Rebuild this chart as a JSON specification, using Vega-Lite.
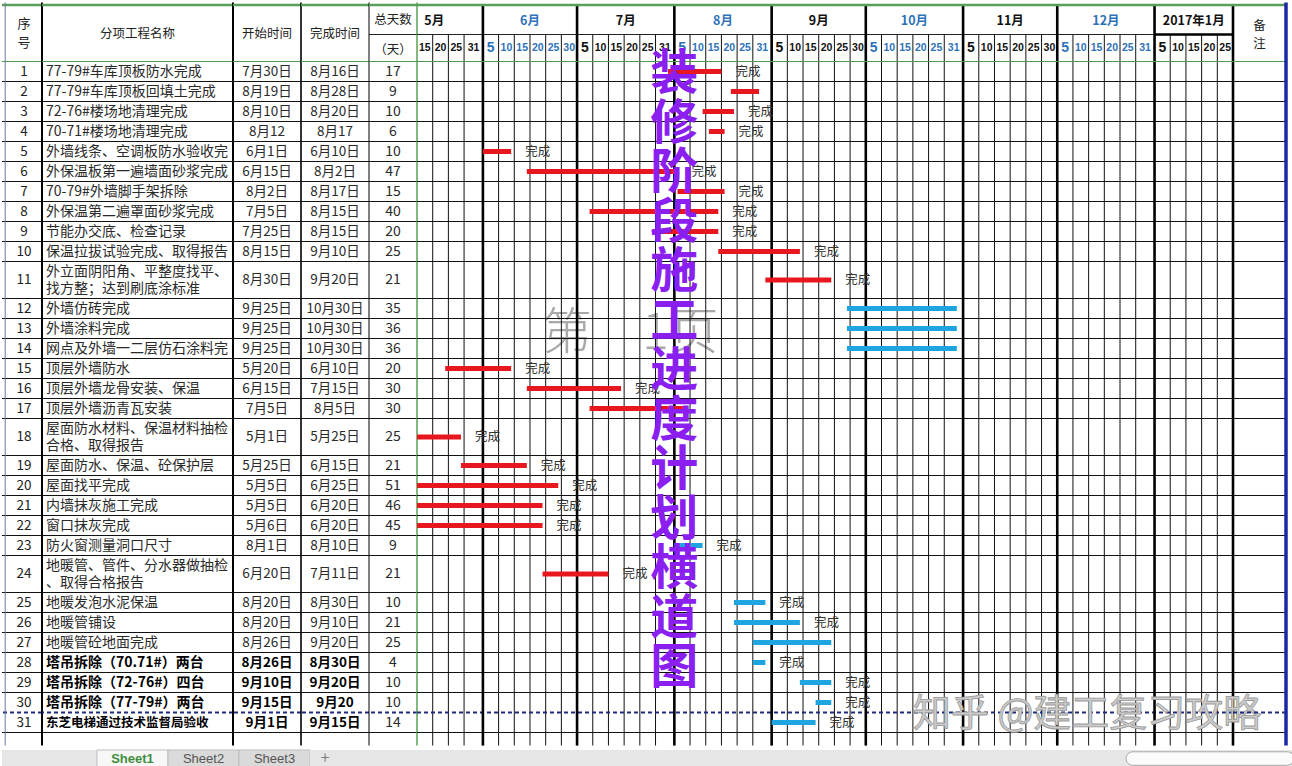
{
  "$schema": "https://vega.github.io/schema/vega-lite/v6.json",
  "padding": 0,
  "background": "white",
  "spacing": 0,
  "config": {
    "view": {"stroke": null},
    "axis": {"disable": true},
    "legend": {"disable": true},
    "concat": {"spacing": 0},
    "font": "Noto Sans CJK SC"
  },
  "datasets": {
    "tasks": [
      {"id": 1, "name": "77-79#车库顶板防水完成", "start": "7月30日", "end": "8月16日", "days": 17, "s": "2016-07-30", "e": "2016-08-16", "kind": "a", "note": "完成"},
      {"id": 2, "name": "77-79#车库顶板回填土完成", "start": "8月19日", "end": "8月28日", "days": 9, "s": "2016-08-19", "e": "2016-08-28", "kind": "a"},
      {"id": 3, "name": "72-76#楼场地清理完成", "start": "8月10日", "end": "8月20日", "days": 10, "s": "2016-08-10", "e": "2016-08-20", "kind": "a", "note": "完成"},
      {"id": 4, "name": "70-71#楼场地清理完成", "start": "8月12", "end": "8月17", "days": 6, "s": "2016-08-12", "e": "2016-08-17", "kind": "a", "note": "完成"},
      {"id": 5, "name": "外墙线条、空调板防水验收完", "start": "6月1日", "end": "6月10日", "days": 10, "s": "2016-06-01", "e": "2016-06-10", "kind": "a", "note": "完成"},
      {"id": 6, "name": "外保温板第一遍墙面砂浆完成", "start": "6月15日", "end": "8月2日", "days": 47, "s": "2016-06-15", "e": "2016-08-02", "kind": "a", "note": "完成"},
      {"id": 7, "name": "70-79#外墙脚手架拆除", "start": "8月2日", "end": "8月17日", "days": 15, "s": "2016-08-02", "e": "2016-08-17", "kind": "a", "note": "完成"},
      {"id": 8, "name": "外保温第二遍罩面砂浆完成", "start": "7月5日", "end": "8月15日", "days": 40, "s": "2016-07-05", "e": "2016-08-15", "kind": "a", "note": "完成"},
      {"id": 9, "name": "节能办交底、检查记录", "start": "7月25日", "end": "8月15日", "days": 20, "s": "2016-07-25", "e": "2016-08-15", "kind": "a", "note": "完成"},
      {"id": 10, "name": "保温拉拔试验完成、取得报告", "start": "8月15日", "end": "9月10日", "days": 25, "s": "2016-08-15", "e": "2016-09-10", "kind": "a", "note": "完成"},
      {"id": 11, "name": ["外立面阴阳角、平整度找平、", "找方整；达到刷底涂标准"], "start": "8月30日", "end": "9月20日", "days": 21, "s": "2016-08-30", "e": "2016-09-20", "kind": "a", "note": "完成"},
      {"id": 12, "name": "外墙仿砖完成", "start": "9月25日", "end": "10月30日", "days": 35, "s": "2016-09-25", "e": "2016-10-30", "kind": "b"},
      {"id": 13, "name": "外墙涂料完成", "start": "9月25日", "end": "10月30日", "days": 36, "s": "2016-09-25", "e": "2016-10-30", "kind": "b"},
      {"id": 14, "name": "网点及外墙一二层仿石涂料完", "start": "9月25日", "end": "10月30日", "days": 36, "s": "2016-09-25", "e": "2016-10-30", "kind": "b"},
      {"id": 15, "name": "顶层外墙防水", "start": "5月20日", "end": "6月10日", "days": 20, "s": "2016-05-20", "e": "2016-06-10", "kind": "a", "note": "完成"},
      {"id": 16, "name": "顶层外墙龙骨安装、保温", "start": "6月15日", "end": "7月15日", "days": 30, "s": "2016-06-15", "e": "2016-07-15", "kind": "a", "note": "完成"},
      {"id": 17, "name": "顶层外墙沥青瓦安装", "start": "7月5日", "end": "8月5日", "days": 30, "s": "2016-07-05", "e": "2016-08-05", "kind": "a"},
      {"id": 18, "name": ["屋面防水材料、保温材料抽检", "合格、取得报告"], "start": "5月1日", "end": "5月25日", "days": 25, "s": "2016-05-01", "e": "2016-05-25", "kind": "a", "note": "完成"},
      {"id": 19, "name": "屋面防水、保温、砼保护层", "start": "5月25日", "end": "6月15日", "days": 21, "s": "2016-05-25", "e": "2016-06-15", "kind": "a", "note": "完成"},
      {"id": 20, "name": "屋面找平完成", "start": "5月5日", "end": "6月25日", "days": 51, "s": "2016-05-05", "e": "2016-06-25", "kind": "a", "note": "完成"},
      {"id": 21, "name": "内墙抹灰施工完成", "start": "5月5日", "end": "6月20日", "days": 46, "s": "2016-05-05", "e": "2016-06-20", "kind": "a", "note": "完成"},
      {"id": 22, "name": "窗口抹灰完成", "start": "5月6日", "end": "6月20日", "days": 45, "s": "2016-05-06", "e": "2016-06-20", "kind": "a", "note": "完成"},
      {"id": 23, "name": "防火窗测量洞口尺寸", "start": "8月1日", "end": "8月10日", "days": 9, "s": "2016-08-01", "e": "2016-08-10", "kind": "b", "note": "完成"},
      {"id": 24, "name": ["地暖管、管件、分水器做抽检", "、取得合格报告"], "start": "6月20日", "end": "7月11日", "days": 21, "s": "2016-06-20", "e": "2016-07-11", "kind": "a", "note": "完成"},
      {"id": 25, "name": "地暖发泡水泥保温", "start": "8月20日", "end": "8月30日", "days": 10, "s": "2016-08-20", "e": "2016-08-30", "kind": "b", "note": "完成"},
      {"id": 26, "name": "地暖管铺设", "start": "8月20日", "end": "9月10日", "days": 21, "s": "2016-08-20", "e": "2016-09-10", "kind": "b", "note": "完成"},
      {"id": 27, "name": "地暖管砼地面完成", "start": "8月26日", "end": "9月20日", "days": 25, "s": "2016-08-26", "e": "2016-09-20", "kind": "b"},
      {"id": 28, "name": "塔吊拆除（70.71#）两台", "start": "8月26日", "end": "8月30日", "days": 4, "s": "2016-08-26", "e": "2016-08-30", "kind": "b", "note": "完成"},
      {"id": 29, "name": "塔吊拆除（72-76#）四台", "start": "9月10日", "end": "9月20日", "days": 10, "s": "2016-09-10", "e": "2016-09-20", "kind": "b", "note": "完成"},
      {"id": 30, "name": "塔吊拆除（77-79#）两台", "start": "9月15日", "end": "9月20", "days": 10, "s": "2016-09-15", "e": "2016-09-20", "kind": "b", "note": "完成"},
      {"id": 31, "name": "东芝电梯通过技术监督局验收", "start": "9月1日", "end": "9月15日", "days": 14, "s": "2016-09-01", "e": "2016-09-15", "kind": "b", "note": "完成"}
    ],
    "months": [
      {"name": "5月", "m": 5, "s": "2016-05-01", "e": "2016-06-01"},
      {"name": "6月", "m": 6, "s": "2016-06-01", "e": "2016-07-01"},
      {"name": "7月", "m": 7, "s": "2016-07-01", "e": "2016-08-01"},
      {"name": "8月", "m": 8, "s": "2016-08-01", "e": "2016-09-01"},
      {"name": "9月", "m": 9, "s": "2016-09-01", "e": "2016-10-01"},
      {"name": "10月", "m": 10, "s": "2016-10-01", "e": "2016-11-01"},
      {"name": "11月", "m": 11, "s": "2016-11-01", "e": "2016-12-01"},
      {"name": "12月", "m": 12, "s": "2016-12-01", "e": "2017-01-01"},
      {"name": "2017年1月", "m": 1, "s": "2017-01-01", "e": "2017-01-26"}
    ],
    "cols": [
      {"m": 5, "d": 15, "s": "2016-05-11", "e": "2016-05-16"},
      {"m": 5, "d": 20, "s": "2016-05-16", "e": "2016-05-21"},
      {"m": 5, "d": 25, "s": "2016-05-21", "e": "2016-05-26"},
      {"m": 5, "d": 31, "s": "2016-05-26", "e": "2016-06-01"},
      {"m": 6, "d": 5, "s": "2016-06-01", "e": "2016-06-06"},
      {"m": 6, "d": 10, "s": "2016-06-06", "e": "2016-06-11"},
      {"m": 6, "d": 15, "s": "2016-06-11", "e": "2016-06-16"},
      {"m": 6, "d": 20, "s": "2016-06-16", "e": "2016-06-21"},
      {"m": 6, "d": 25, "s": "2016-06-21", "e": "2016-06-26"},
      {"m": 6, "d": 30, "s": "2016-06-26", "e": "2016-07-01"},
      {"m": 7, "d": 5, "s": "2016-07-01", "e": "2016-07-06"},
      {"m": 7, "d": 10, "s": "2016-07-06", "e": "2016-07-11"},
      {"m": 7, "d": 15, "s": "2016-07-11", "e": "2016-07-16"},
      {"m": 7, "d": 20, "s": "2016-07-16", "e": "2016-07-21"},
      {"m": 7, "d": 25, "s": "2016-07-21", "e": "2016-07-26"},
      {"m": 7, "d": 31, "s": "2016-07-26", "e": "2016-08-01"},
      {"m": 8, "d": 5, "s": "2016-08-01", "e": "2016-08-06"},
      {"m": 8, "d": 10, "s": "2016-08-06", "e": "2016-08-11"},
      {"m": 8, "d": 15, "s": "2016-08-11", "e": "2016-08-16"},
      {"m": 8, "d": 20, "s": "2016-08-16", "e": "2016-08-21"},
      {"m": 8, "d": 25, "s": "2016-08-21", "e": "2016-08-26"},
      {"m": 8, "d": 31, "s": "2016-08-26", "e": "2016-09-01"},
      {"m": 9, "d": 5, "s": "2016-09-01", "e": "2016-09-06"},
      {"m": 9, "d": 10, "s": "2016-09-06", "e": "2016-09-11"},
      {"m": 9, "d": 15, "s": "2016-09-11", "e": "2016-09-16"},
      {"m": 9, "d": 20, "s": "2016-09-16", "e": "2016-09-21"},
      {"m": 9, "d": 25, "s": "2016-09-21", "e": "2016-09-26"},
      {"m": 9, "d": 30, "s": "2016-09-26", "e": "2016-10-01"},
      {"m": 10, "d": 5, "s": "2016-10-01", "e": "2016-10-06"},
      {"m": 10, "d": 10, "s": "2016-10-06", "e": "2016-10-11"},
      {"m": 10, "d": 15, "s": "2016-10-11", "e": "2016-10-16"},
      {"m": 10, "d": 20, "s": "2016-10-16", "e": "2016-10-21"},
      {"m": 10, "d": 25, "s": "2016-10-21", "e": "2016-10-26"},
      {"m": 10, "d": 31, "s": "2016-10-26", "e": "2016-11-01"},
      {"m": 11, "d": 5, "s": "2016-11-01", "e": "2016-11-06"},
      {"m": 11, "d": 10, "s": "2016-11-06", "e": "2016-11-11"},
      {"m": 11, "d": 15, "s": "2016-11-11", "e": "2016-11-16"},
      {"m": 11, "d": 20, "s": "2016-11-16", "e": "2016-11-21"},
      {"m": 11, "d": 25, "s": "2016-11-21", "e": "2016-11-26"},
      {"m": 11, "d": 30, "s": "2016-11-26", "e": "2016-12-01"},
      {"m": 12, "d": 5, "s": "2016-12-01", "e": "2016-12-06"},
      {"m": 12, "d": 10, "s": "2016-12-06", "e": "2016-12-11"},
      {"m": 12, "d": 15, "s": "2016-12-11", "e": "2016-12-16"},
      {"m": 12, "d": 20, "s": "2016-12-16", "e": "2016-12-21"},
      {"m": 12, "d": 25, "s": "2016-12-21", "e": "2016-12-26"},
      {"m": 12, "d": 31, "s": "2016-12-26", "e": "2017-01-01"},
      {"m": 1, "d": 5, "s": "2017-01-01", "e": "2017-01-06"},
      {"m": 1, "d": 10, "s": "2017-01-06", "e": "2017-01-11"},
      {"m": 1, "d": 15, "s": "2017-01-11", "e": "2017-01-16"},
      {"m": 1, "d": 20, "s": "2017-01-16", "e": "2017-01-21"},
      {"m": 1, "d": 25, "s": "2017-01-21", "e": "2017-01-26"}
    ]
  },
  "vconcat": [
    {
      "spacing": 0,
      "bounds": "flush",
      "hconcat": [
        {
          "width": 40, "height": 748,
          "layer": [
            {"data": {"name": "tasks"}, "transform": [{"calculate": "isArray(datum.name) ? 1.85 : 1", "as": "h"}, {"window": [{"op": "sum", "field": "h", "as": "yb"}], "sort": [{"field": "id"}], "frame": [null, 0]}, {"calculate": "datum.yb - datum.h/2", "as": "ym"}],
             "mark": {"type": "rule"},
             "encoding": {"y": {"field": "yb", "type": "quantitative", "scale": {"domain": [-3.025, 34.375], "reverse": true, "nice": false, "zero": false}},
               "color": {"condition": {"test": "datum.id == 30", "value": "#1f2a7a"}, "value": "#111111"},
               "strokeDash": {"condition": {"test": "datum.id == 30", "value": [4, 3]}, "value": [1, 0]},
               "strokeWidth": {"condition": {"test": "datum.id == 30", "value": 2}, "value": 1}}},
            {"data": {"values": [{}]}, "mark": {"type": "rule", "color": "#5a9e5a", "strokeWidth": 2.5}, "encoding": {"y": {"datum": -2.825, "type": "quantitative", "scale": {"domain": [-3.025, 34.375], "reverse": true, "nice": false, "zero": false}}}},
            {"data": {"values": [{}]}, "mark": {"type": "rule", "color": "#4f9a4f", "strokeWidth": 1.2}, "encoding": {"y": {"datum": 0, "type": "quantitative", "scale": {"domain": [-3.025, 34.375], "reverse": true, "nice": false, "zero": false}}}},
            {"data": {"values": [{}]}, "mark": {"type": "rule", "color": "#6a78a8", "strokeWidth": 1}, "encoding": {"x": {"datum": 0.08, "type": "quantitative", "scale": {"domain": [0, 1], "nice": false, "zero": false}}, "y": {"datum": -2.95, "type": "quantitative", "scale": {"domain": [-3.025, 34.375], "reverse": true, "nice": false, "zero": false}}, "y2": {"datum": 34.2}}},
            {"data": {"values": [{}]}, "mark": {"type": "rule", "color": "#000000", "strokeWidth": 2}, "encoding": {"x": {"datum": 1, "type": "quantitative", "scale": {"domain": [0, 1], "nice": false, "zero": false}}, "y": {"datum": -2.95, "type": "quantitative", "scale": {"domain": [-3.025, 34.375], "reverse": true, "nice": false, "zero": false}}, "y2": {"datum": 34.2}}},
            {"data": {"values": [{}]}, "mark": {"type": "text", "text": ["序", "号"], "fontSize": 13, "lineHeight": 19, "align": "center", "baseline": "middle", "dy": -9.5, "color": "#222222"},
             "encoding": {"x": {"datum": 0.55, "type": "quantitative", "scale": {"domain": [0, 1], "nice": false, "zero": false}}, "y": {"datum": -1.4, "type": "quantitative", "scale": {"domain": [-3.025, 34.375], "reverse": true, "nice": false, "zero": false}}}},
            {"data": {"name": "tasks"}, "transform": [{"calculate": "isArray(datum.name) ? 1.85 : 1", "as": "h"}, {"window": [{"op": "sum", "field": "h", "as": "yb"}], "sort": [{"field": "id"}], "frame": [null, 0]}, {"calculate": "datum.yb - datum.h/2", "as": "ym"}],
             "mark": {"type": "text", "fontSize": 13.5, "align": "center", "baseline": "middle", "color": "#222222"},
             "encoding": {"x": {"datum": 0.55, "type": "quantitative", "scale": {"domain": [0, 1], "nice": false, "zero": false}}, "y": {"field": "ym", "type": "quantitative", "scale": {"domain": [-3.025, 34.375], "reverse": true, "nice": false, "zero": false}}, "text": {"field": "id", "type": "nominal"}}}
          ]
        },
        {
          "width": 191, "height": 748,
          "layer": [
            {"data": {"name": "tasks"}, "transform": [{"calculate": "isArray(datum.name) ? 1.85 : 1", "as": "h"}, {"window": [{"op": "sum", "field": "h", "as": "yb"}], "sort": [{"field": "id"}], "frame": [null, 0]}, {"calculate": "datum.yb - datum.h/2", "as": "ym"}],
             "mark": {"type": "rule"},
             "encoding": {"y": {"field": "yb", "type": "quantitative", "scale": {"domain": [-3.025, 34.375], "reverse": true, "nice": false, "zero": false}},
               "color": {"condition": {"test": "datum.id == 30", "value": "#1f2a7a"}, "value": "#111111"},
               "strokeDash": {"condition": {"test": "datum.id == 30", "value": [4, 3]}, "value": [1, 0]},
               "strokeWidth": {"condition": {"test": "datum.id == 30", "value": 2}, "value": 1}}},
            {"data": {"values": [{}]}, "mark": {"type": "rule", "color": "#5a9e5a", "strokeWidth": 2.5}, "encoding": {"y": {"datum": -2.825, "type": "quantitative", "scale": {"domain": [-3.025, 34.375], "reverse": true, "nice": false, "zero": false}}}},
            {"data": {"values": [{}]}, "mark": {"type": "rule", "color": "#4f9a4f", "strokeWidth": 1.2}, "encoding": {"y": {"datum": 0, "type": "quantitative", "scale": {"domain": [-3.025, 34.375], "reverse": true, "nice": false, "zero": false}}}},
            {"data": {"values": [{}]}, "mark": {"type": "rule", "color": "#000000", "strokeWidth": 2}, "encoding": {"x": {"datum": 1, "type": "quantitative", "scale": {"domain": [0, 1], "nice": false, "zero": false}}, "y": {"datum": -2.95, "type": "quantitative", "scale": {"domain": [-3.025, 34.375], "reverse": true, "nice": false, "zero": false}}, "y2": {"datum": 34.2}}},
            {"data": {"values": [{}]}, "mark": {"type": "text", "text": "分项工程名称", "fontSize": 12.5, "align": "center", "baseline": "middle", "color": "#222222"},
             "encoding": {"x": {"datum": 0.5, "type": "quantitative", "scale": {"domain": [0, 1], "nice": false, "zero": false}}, "y": {"datum": -1.4, "type": "quantitative", "scale": {"domain": [-3.025, 34.375], "reverse": true, "nice": false, "zero": false}}}},
            {"data": {"name": "tasks"}, "transform": [{"calculate": "isArray(datum.name) ? 1.85 : 1", "as": "h"}, {"window": [{"op": "sum", "field": "h", "as": "yb"}], "sort": [{"field": "id"}], "frame": [null, 0]}, {"calculate": "datum.yb - datum.h/2", "as": "ym"}, {"filter": "datum.id < 28 && !isArray(datum.name)"}],
             "mark": {"type": "text", "fontSize": 14, "align": "left", "baseline": "middle", "dx": 4, "color": "#2a2a2a"},
             "encoding": {"x": {"datum": 0, "type": "quantitative", "scale": {"domain": [0, 1], "nice": false, "zero": false}}, "y": {"field": "ym", "type": "quantitative", "scale": {"domain": [-3.025, 34.375], "reverse": true, "nice": false, "zero": false}}, "text": {"field": "name"}}},
            {"data": {"name": "tasks"}, "transform": [{"calculate": "isArray(datum.name) ? 1.85 : 1", "as": "h"}, {"window": [{"op": "sum", "field": "h", "as": "yb"}], "sort": [{"field": "id"}], "frame": [null, 0]}, {"calculate": "datum.yb - datum.h/2", "as": "ym"}, {"filter": "isArray(datum.name)"}],
             "mark": {"type": "text", "fontSize": 14, "lineHeight": 17, "align": "left", "baseline": "middle", "dx": 4, "dy": -8.5, "color": "#2a2a2a"},
             "encoding": {"x": {"datum": 0, "type": "quantitative", "scale": {"domain": [0, 1], "nice": false, "zero": false}}, "y": {"field": "ym", "type": "quantitative", "scale": {"domain": [-3.025, 34.375], "reverse": true, "nice": false, "zero": false}}, "text": {"field": "name"}}},
            {"data": {"name": "tasks"}, "transform": [{"calculate": "isArray(datum.name) ? 1.85 : 1", "as": "h"}, {"window": [{"op": "sum", "field": "h", "as": "yb"}], "sort": [{"field": "id"}], "frame": [null, 0]}, {"calculate": "datum.yb - datum.h/2", "as": "ym"}, {"filter": "datum.id >= 28 && datum.id <= 30"}],
             "mark": {"type": "text", "fontSize": 14, "fontWeight": "bold", "align": "left", "baseline": "middle", "dx": 4, "color": "#000000"},
             "encoding": {"x": {"datum": 0, "type": "quantitative", "scale": {"domain": [0, 1], "nice": false, "zero": false}}, "y": {"field": "ym", "type": "quantitative", "scale": {"domain": [-3.025, 34.375], "reverse": true, "nice": false, "zero": false}}, "text": {"field": "name"}}},
            {"data": {"name": "tasks"}, "transform": [{"calculate": "isArray(datum.name) ? 1.85 : 1", "as": "h"}, {"window": [{"op": "sum", "field": "h", "as": "yb"}], "sort": [{"field": "id"}], "frame": [null, 0]}, {"calculate": "datum.yb - datum.h/2", "as": "ym"}, {"filter": "datum.id == 31"}],
             "mark": {"type": "text", "fontSize": 12.5, "fontWeight": "bold", "align": "left", "baseline": "middle", "dx": 4, "color": "#000000"},
             "encoding": {"x": {"datum": 0, "type": "quantitative", "scale": {"domain": [0, 1], "nice": false, "zero": false}}, "y": {"field": "ym", "type": "quantitative", "scale": {"domain": [-3.025, 34.375], "reverse": true, "nice": false, "zero": false}}, "text": {"field": "name"}}}
          ]
        },
        {
          "width": 68, "height": 748,
          "layer": [
            {"data": {"name": "tasks"}, "transform": [{"calculate": "isArray(datum.name) ? 1.85 : 1", "as": "h"}, {"window": [{"op": "sum", "field": "h", "as": "yb"}], "sort": [{"field": "id"}], "frame": [null, 0]}, {"calculate": "datum.yb - datum.h/2", "as": "ym"}],
             "mark": {"type": "rule"},
             "encoding": {"y": {"field": "yb", "type": "quantitative", "scale": {"domain": [-3.025, 34.375], "reverse": true, "nice": false, "zero": false}},
               "color": {"condition": {"test": "datum.id == 30", "value": "#1f2a7a"}, "value": "#111111"},
               "strokeDash": {"condition": {"test": "datum.id == 30", "value": [4, 3]}, "value": [1, 0]},
               "strokeWidth": {"condition": {"test": "datum.id == 30", "value": 2}, "value": 1}}},
            {"data": {"values": [{}]}, "mark": {"type": "rule", "color": "#5a9e5a", "strokeWidth": 2.5}, "encoding": {"y": {"datum": -2.825, "type": "quantitative", "scale": {"domain": [-3.025, 34.375], "reverse": true, "nice": false, "zero": false}}}},
            {"data": {"values": [{}]}, "mark": {"type": "rule", "color": "#4f9a4f", "strokeWidth": 1.2}, "encoding": {"y": {"datum": 0, "type": "quantitative", "scale": {"domain": [-3.025, 34.375], "reverse": true, "nice": false, "zero": false}}}},
            {"data": {"values": [{}]}, "mark": {"type": "rule", "color": "#000000", "strokeWidth": 1.6}, "encoding": {"x": {"datum": 1, "type": "quantitative", "scale": {"domain": [0, 1], "nice": false, "zero": false}}, "y": {"datum": -2.95, "type": "quantitative", "scale": {"domain": [-3.025, 34.375], "reverse": true, "nice": false, "zero": false}}, "y2": {"datum": 34.2}}},
            {"data": {"values": [{}]}, "mark": {"type": "text", "text": "开始时间", "fontSize": 12.5, "align": "center", "baseline": "middle", "color": "#222222"},
             "encoding": {"x": {"datum": 0.5, "type": "quantitative", "scale": {"domain": [0, 1], "nice": false, "zero": false}}, "y": {"datum": -1.4, "type": "quantitative", "scale": {"domain": [-3.025, 34.375], "reverse": true, "nice": false, "zero": false}}}},
            {"data": {"name": "tasks"}, "transform": [{"calculate": "isArray(datum.name) ? 1.85 : 1", "as": "h"}, {"window": [{"op": "sum", "field": "h", "as": "yb"}], "sort": [{"field": "id"}], "frame": [null, 0]}, {"calculate": "datum.yb - datum.h/2", "as": "ym"}, {"filter": "datum.id < 28"}],
             "mark": {"type": "text", "fontSize": 13.5, "align": "center", "baseline": "middle", "color": "#2a2a2a"},
             "encoding": {"x": {"datum": 0.5, "type": "quantitative", "scale": {"domain": [0, 1], "nice": false, "zero": false}}, "y": {"field": "ym", "type": "quantitative", "scale": {"domain": [-3.025, 34.375], "reverse": true, "nice": false, "zero": false}}, "text": {"field": "start"}}},
            {"data": {"name": "tasks"}, "transform": [{"calculate": "isArray(datum.name) ? 1.85 : 1", "as": "h"}, {"window": [{"op": "sum", "field": "h", "as": "yb"}], "sort": [{"field": "id"}], "frame": [null, 0]}, {"calculate": "datum.yb - datum.h/2", "as": "ym"}, {"filter": "datum.id >= 28"}],
             "mark": {"type": "text", "fontSize": 13.5, "fontWeight": "bold", "align": "center", "baseline": "middle", "color": "#000000"},
             "encoding": {"x": {"datum": 0.5, "type": "quantitative", "scale": {"domain": [0, 1], "nice": false, "zero": false}}, "y": {"field": "ym", "type": "quantitative", "scale": {"domain": [-3.025, 34.375], "reverse": true, "nice": false, "zero": false}}, "text": {"field": "start"}}}
          ]
        },
        {
          "width": 68, "height": 748,
          "layer": [
            {"data": {"name": "tasks"}, "transform": [{"calculate": "isArray(datum.name) ? 1.85 : 1", "as": "h"}, {"window": [{"op": "sum", "field": "h", "as": "yb"}], "sort": [{"field": "id"}], "frame": [null, 0]}, {"calculate": "datum.yb - datum.h/2", "as": "ym"}],
             "mark": {"type": "rule"},
             "encoding": {"y": {"field": "yb", "type": "quantitative", "scale": {"domain": [-3.025, 34.375], "reverse": true, "nice": false, "zero": false}},
               "color": {"condition": {"test": "datum.id == 30", "value": "#1f2a7a"}, "value": "#111111"},
               "strokeDash": {"condition": {"test": "datum.id == 30", "value": [4, 3]}, "value": [1, 0]},
               "strokeWidth": {"condition": {"test": "datum.id == 30", "value": 2}, "value": 1}}},
            {"data": {"values": [{}]}, "mark": {"type": "rule", "color": "#5a9e5a", "strokeWidth": 2.5}, "encoding": {"y": {"datum": -2.825, "type": "quantitative", "scale": {"domain": [-3.025, 34.375], "reverse": true, "nice": false, "zero": false}}}},
            {"data": {"values": [{}]}, "mark": {"type": "rule", "color": "#4f9a4f", "strokeWidth": 1.2}, "encoding": {"y": {"datum": 0, "type": "quantitative", "scale": {"domain": [-3.025, 34.375], "reverse": true, "nice": false, "zero": false}}}},
            {"data": {"values": [{}]}, "mark": {"type": "rule", "color": "#000000", "strokeWidth": 1}, "encoding": {"x": {"datum": 1, "type": "quantitative", "scale": {"domain": [0, 1], "nice": false, "zero": false}}, "y": {"datum": -2.95, "type": "quantitative", "scale": {"domain": [-3.025, 34.375], "reverse": true, "nice": false, "zero": false}}, "y2": {"datum": 34.2}}},
            {"data": {"values": [{}]}, "mark": {"type": "text", "text": "完成时间", "fontSize": 12.5, "align": "center", "baseline": "middle", "color": "#222222"},
             "encoding": {"x": {"datum": 0.5, "type": "quantitative", "scale": {"domain": [0, 1], "nice": false, "zero": false}}, "y": {"datum": -1.4, "type": "quantitative", "scale": {"domain": [-3.025, 34.375], "reverse": true, "nice": false, "zero": false}}}},
            {"data": {"name": "tasks"}, "transform": [{"calculate": "isArray(datum.name) ? 1.85 : 1", "as": "h"}, {"window": [{"op": "sum", "field": "h", "as": "yb"}], "sort": [{"field": "id"}], "frame": [null, 0]}, {"calculate": "datum.yb - datum.h/2", "as": "ym"}, {"filter": "datum.id < 28"}],
             "mark": {"type": "text", "fontSize": 13.5, "align": "center", "baseline": "middle", "color": "#2a2a2a"},
             "encoding": {"x": {"datum": 0.5, "type": "quantitative", "scale": {"domain": [0, 1], "nice": false, "zero": false}}, "y": {"field": "ym", "type": "quantitative", "scale": {"domain": [-3.025, 34.375], "reverse": true, "nice": false, "zero": false}}, "text": {"field": "end"}}},
            {"data": {"name": "tasks"}, "transform": [{"calculate": "isArray(datum.name) ? 1.85 : 1", "as": "h"}, {"window": [{"op": "sum", "field": "h", "as": "yb"}], "sort": [{"field": "id"}], "frame": [null, 0]}, {"calculate": "datum.yb - datum.h/2", "as": "ym"}, {"filter": "datum.id >= 28"}],
             "mark": {"type": "text", "fontSize": 13.5, "fontWeight": "bold", "align": "center", "baseline": "middle", "color": "#000000"},
             "encoding": {"x": {"datum": 0.5, "type": "quantitative", "scale": {"domain": [0, 1], "nice": false, "zero": false}}, "y": {"field": "ym", "type": "quantitative", "scale": {"domain": [-3.025, 34.375], "reverse": true, "nice": false, "zero": false}}, "text": {"field": "end"}}}
          ]
        },
        {
          "width": 48, "height": 748,
          "layer": [
            {"data": {"name": "tasks"}, "transform": [{"calculate": "isArray(datum.name) ? 1.85 : 1", "as": "h"}, {"window": [{"op": "sum", "field": "h", "as": "yb"}], "sort": [{"field": "id"}], "frame": [null, 0]}, {"calculate": "datum.yb - datum.h/2", "as": "ym"}],
             "mark": {"type": "rule"},
             "encoding": {"y": {"field": "yb", "type": "quantitative", "scale": {"domain": [-3.025, 34.375], "reverse": true, "nice": false, "zero": false}},
               "color": {"condition": {"test": "datum.id == 30", "value": "#1f2a7a"}, "value": "#111111"},
               "strokeDash": {"condition": {"test": "datum.id == 30", "value": [4, 3]}, "value": [1, 0]},
               "strokeWidth": {"condition": {"test": "datum.id == 30", "value": 2}, "value": 1}}},
            {"data": {"values": [{}]}, "mark": {"type": "rule", "color": "#5a9e5a", "strokeWidth": 2.5}, "encoding": {"y": {"datum": -2.825, "type": "quantitative", "scale": {"domain": [-3.025, 34.375], "reverse": true, "nice": false, "zero": false}}}},
            {"data": {"values": [{}]}, "mark": {"type": "rule", "color": "#4f9a4f", "strokeWidth": 1.2}, "encoding": {"y": {"datum": 0, "type": "quantitative", "scale": {"domain": [-3.025, 34.375], "reverse": true, "nice": false, "zero": false}}}},
            {"data": {"values": [{}]}, "mark": {"type": "rule", "color": "#222222", "strokeWidth": 1}, "encoding": {"y": {"datum": -1.35, "type": "quantitative", "scale": {"domain": [-3.025, 34.375], "reverse": true, "nice": false, "zero": false}}}},
            {"data": {"values": [{}]}, "mark": {"type": "rule", "color": "#5aa05a", "strokeWidth": 1.5}, "encoding": {"x": {"datum": 1, "type": "quantitative", "scale": {"domain": [0, 1], "nice": false, "zero": false}}, "y": {"datum": -2.95, "type": "quantitative", "scale": {"domain": [-3.025, 34.375], "reverse": true, "nice": false, "zero": false}}, "y2": {"datum": 34.2}}},
            {"data": {"values": [{}]}, "mark": {"type": "text", "text": "总天数", "fontSize": 12.5, "align": "center", "baseline": "middle", "color": "#222222"},
             "encoding": {"x": {"datum": 0.5, "type": "quantitative", "scale": {"domain": [0, 1], "nice": false, "zero": false}}, "y": {"datum": -2.1, "type": "quantitative", "scale": {"domain": [-3.025, 34.375], "reverse": true, "nice": false, "zero": false}}}},
            {"data": {"values": [{}]}, "mark": {"type": "text", "text": "（天）", "fontSize": 12.5, "align": "center", "baseline": "middle", "color": "#222222"},
             "encoding": {"x": {"datum": 0.5, "type": "quantitative", "scale": {"domain": [0, 1], "nice": false, "zero": false}}, "y": {"datum": -0.6, "type": "quantitative", "scale": {"domain": [-3.025, 34.375], "reverse": true, "nice": false, "zero": false}}}},
            {"data": {"name": "tasks"}, "transform": [{"calculate": "isArray(datum.name) ? 1.85 : 1", "as": "h"}, {"window": [{"op": "sum", "field": "h", "as": "yb"}], "sort": [{"field": "id"}], "frame": [null, 0]}, {"calculate": "datum.yb - datum.h/2", "as": "ym"}],
             "mark": {"type": "text", "fontSize": 14, "align": "center", "baseline": "middle", "color": "#2a2a2a"},
             "encoding": {"x": {"datum": 0.5, "type": "quantitative", "scale": {"domain": [0, 1], "nice": false, "zero": false}}, "y": {"field": "ym", "type": "quantitative", "scale": {"domain": [-3.025, 34.375], "reverse": true, "nice": false, "zero": false}}, "text": {"field": "days", "type": "nominal"}}}
          ]
        },
        {
          "width": 816, "height": 748,
          "layer": [
            {"data": {"values": [{}]}, "mark": {"type": "text", "text": "第　1页", "fontSize": 50, "fontWeight": 300, "align": "center", "baseline": "middle", "color": "#a9a9a9"},
             "encoding": {"x": {"datum": {"year": 2016, "month": 7, "date": 18, "utc": true}, "type": "temporal", "scale": {"type": "utc", "domain": [{"year": 2016, "month": 5, "date": 11, "utc": true}, {"year": 2017, "month": 1, "date": 26, "utc": true}], "nice": false}},
               "y": {"datum": 13.6, "type": "quantitative", "scale": {"domain": [-3.025, 34.375], "reverse": true, "nice": false, "zero": false}}}},
            {"data": {"name": "cols"}, "mark": {"type": "rule", "color": "#111111", "strokeWidth": 1},
             "encoding": {"x": {"field": "e", "type": "temporal", "scale": {"type": "utc", "domain": [{"year": 2016, "month": 5, "date": 11, "utc": true}, {"year": 2017, "month": 1, "date": 26, "utc": true}], "nice": false}},
               "y": {"datum": -1.35, "type": "quantitative", "scale": {"domain": [-3.025, 34.375], "reverse": true, "nice": false, "zero": false}}, "y2": {"datum": 34.2}}},
            {"data": {"values": [{}]}, "mark": {"type": "rule", "color": "#222222", "strokeWidth": 1}, "encoding": {"y": {"datum": -1.35, "type": "quantitative", "scale": {"domain": [-3.025, 34.375], "reverse": true, "nice": false, "zero": false}}}},
            {"data": {"name": "tasks"}, "transform": [{"calculate": "isArray(datum.name) ? 1.85 : 1", "as": "h"}, {"window": [{"op": "sum", "field": "h", "as": "yb"}], "sort": [{"field": "id"}], "frame": [null, 0]}, {"calculate": "datum.yb - datum.h/2", "as": "ym"}],
             "mark": {"type": "rule"},
             "encoding": {"y": {"field": "yb", "type": "quantitative", "scale": {"domain": [-3.025, 34.375], "reverse": true, "nice": false, "zero": false}},
               "color": {"condition": {"test": "datum.id == 30", "value": "#1f2a7a"}, "value": "#111111"},
               "strokeDash": {"condition": {"test": "datum.id == 30", "value": [4, 3]}, "value": [1, 0]},
               "strokeWidth": {"condition": {"test": "datum.id == 30", "value": 2}, "value": 1}}},
            {"data": {"name": "months"}, "mark": {"type": "rule", "color": "#000000", "strokeWidth": 2.6},
             "encoding": {"x": {"field": "e", "type": "temporal", "scale": {"type": "utc", "domain": [{"year": 2016, "month": 5, "date": 11, "utc": true}, {"year": 2017, "month": 1, "date": 26, "utc": true}], "nice": false}},
               "y": {"datum": -2.825, "type": "quantitative", "scale": {"domain": [-3.025, 34.375], "reverse": true, "nice": false, "zero": false}}, "y2": {"datum": 34.2}}},
            {"data": {"name": "months"}, "transform": [{"filter": "datum.m == 1"}], "mark": {"type": "rule", "color": "#000000", "strokeWidth": 2.5},
             "encoding": {"x": {"field": "s", "type": "temporal", "scale": {"type": "utc", "domain": [{"year": 2016, "month": 5, "date": 11, "utc": true}, {"year": 2017, "month": 1, "date": 26, "utc": true}], "nice": false}}, "x2": {"field": "e"},
               "y": {"datum": -1.35, "type": "quantitative", "scale": {"domain": [-3.025, 34.375], "reverse": true, "nice": false, "zero": false}}}},
            {"data": {"values": [{}]}, "mark": {"type": "rule", "color": "#5a9e5a", "strokeWidth": 2.5}, "encoding": {"y": {"datum": -2.825, "type": "quantitative", "scale": {"domain": [-3.025, 34.375], "reverse": true, "nice": false, "zero": false}}}},
            {"data": {"values": [{}]}, "mark": {"type": "rule", "color": "#4f9a4f", "strokeWidth": 1.2}, "encoding": {"y": {"datum": 0, "type": "quantitative", "scale": {"domain": [-3.025, 34.375], "reverse": true, "nice": false, "zero": false}}}},
            {"data": {"name": "tasks"}, "transform": [{"calculate": "isArray(datum.name) ? 1.85 : 1", "as": "h"}, {"window": [{"op": "sum", "field": "h", "as": "yb"}], "sort": [{"field": "id"}], "frame": [null, 0]}, {"calculate": "datum.yb - datum.h/2", "as": "ym"}],
             "mark": {"type": "rule", "strokeWidth": 5, "strokeCap": "butt", "clip": true},
             "encoding": {"x": {"field": "s", "type": "temporal", "scale": {"type": "utc", "domain": [{"year": 2016, "month": 5, "date": 11, "utc": true}, {"year": 2017, "month": 1, "date": 26, "utc": true}], "nice": false}}, "x2": {"field": "e"},
               "y": {"field": "ym", "type": "quantitative", "scale": {"domain": [-3.025, 34.375], "reverse": true, "nice": false, "zero": false}},
               "color": {"field": "kind", "type": "nominal", "scale": {"domain": ["a", "b"], "range": ["#e8161e", "#1ea5e0"]}, "legend": null}}},
            {"data": {"name": "tasks"}, "transform": [{"calculate": "isArray(datum.name) ? 1.85 : 1", "as": "h"}, {"window": [{"op": "sum", "field": "h", "as": "yb"}], "sort": [{"field": "id"}], "frame": [null, 0]}, {"calculate": "datum.yb - datum.h/2", "as": "ym"}, {"filter": "datum.note"}],
             "mark": {"type": "text", "fontSize": 12.5, "align": "left", "baseline": "middle", "dx": 14, "color": "#333333"},
             "encoding": {"x": {"field": "e", "type": "temporal", "scale": {"type": "utc", "domain": [{"year": 2016, "month": 5, "date": 11, "utc": true}, {"year": 2017, "month": 1, "date": 26, "utc": true}], "nice": false}},
               "y": {"field": "ym", "type": "quantitative", "scale": {"domain": [-3.025, 34.375], "reverse": true, "nice": false, "zero": false}}, "text": {"field": "note"}}},
            {"data": {"name": "cols"}, "transform": [{"calculate": "(time(datum.s) + time(datum.e)) / 2", "as": "mid"}],
             "mark": {"type": "text", "fontWeight": "bold", "font": "Liberation Sans", "align": "center", "baseline": "middle"},
             "encoding": {"x": {"field": "mid", "type": "temporal", "scale": {"type": "utc", "domain": [{"year": 2016, "month": 5, "date": 11, "utc": true}, {"year": 2017, "month": 1, "date": 26, "utc": true}], "nice": false}},
               "y": {"datum": -0.675, "type": "quantitative", "scale": {"domain": [-3.025, 34.375], "reverse": true, "nice": false, "zero": false}},
               "text": {"field": "d", "type": "nominal"},
               "color": {"condition": {"test": "datum.m % 2 == 0", "value": "#2e72b8"}, "value": "#111111"},
               "size": {"condition": {"test": "datum.d == 5", "value": 14}, "value": 10.5}}},
            {"data": {"name": "months"}, "transform": [{"calculate": "(time(datum.s) + time(datum.e)) / 2", "as": "mid"}],
             "mark": {"type": "text", "fontWeight": "bold", "fontSize": 12.5, "align": "center", "baseline": "middle"},
             "encoding": {"x": {"field": "mid", "type": "temporal", "scale": {"type": "utc", "domain": [{"year": 2016, "month": 5, "date": 11, "utc": true}, {"year": 2017, "month": 1, "date": 26, "utc": true}], "nice": false}},
               "y": {"datum": -2.05, "type": "quantitative", "scale": {"domain": [-3.025, 34.375], "reverse": true, "nice": false, "zero": false}},
               "text": {"field": "name"},
               "color": {"condition": {"test": "datum.m % 2 == 0", "value": "#2e72b8"}, "value": "#111111"}}},
            {"data": {"values": [{}]}, "mark": {"type": "text", "text": ["装", "修", "阶", "段", "施", "工", "进", "度", "计", "划", "横", "道", "图"], "fontSize": 48, "fontWeight": "bold", "lineHeight": 49.5, "align": "center", "baseline": "top", "color": "#8a1ff0"},
             "encoding": {"x": {"datum": {"year": 2016, "month": 8, "date": 1, "utc": true}, "type": "temporal", "scale": {"type": "utc", "domain": [{"year": 2016, "month": 5, "date": 11, "utc": true}, {"year": 2017, "month": 1, "date": 26, "utc": true}], "nice": false}},
               "y": {"datum": -0.525, "type": "quantitative", "scale": {"domain": [-3.025, 34.375], "reverse": true, "nice": false, "zero": false}}}},
            {"data": {"values": [{}]}, "mark": {"type": "text", "text": "知乎 @建工复习攻略", "fontSize": 38, "align": "left", "baseline": "middle", "color": "#cccccc", "stroke": "#9a9a9a", "strokeWidth": 0.8},
             "encoding": {"x": {"datum": {"year": 2016, "month": 10, "date": 16, "utc": true}, "type": "temporal", "scale": {"type": "utc", "domain": [{"year": 2016, "month": 5, "date": 11, "utc": true}, {"year": 2017, "month": 1, "date": 26, "utc": true}], "nice": false}},
               "y": {"datum": 32.675, "type": "quantitative", "scale": {"domain": [-3.025, 34.375], "reverse": true, "nice": false, "zero": false}}}}
          ]
        },
        {
          "width": 53, "height": 748,
          "layer": [
            {"data": {"name": "tasks"}, "transform": [{"calculate": "isArray(datum.name) ? 1.85 : 1", "as": "h"}, {"window": [{"op": "sum", "field": "h", "as": "yb"}], "sort": [{"field": "id"}], "frame": [null, 0]}, {"calculate": "datum.yb - datum.h/2", "as": "ym"}],
             "mark": {"type": "rule"},
             "encoding": {"y": {"field": "yb", "type": "quantitative", "scale": {"domain": [-3.025, 34.375], "reverse": true, "nice": false, "zero": false}},
               "color": {"condition": {"test": "datum.id == 30", "value": "#1f2a7a"}, "value": "#111111"},
               "strokeDash": {"condition": {"test": "datum.id == 30", "value": [4, 3]}, "value": [1, 0]},
               "strokeWidth": {"condition": {"test": "datum.id == 30", "value": 2}, "value": 1}}},
            {"data": {"values": [{}]}, "mark": {"type": "rule", "color": "#5a9e5a", "strokeWidth": 2.5}, "encoding": {"y": {"datum": -2.825, "type": "quantitative", "scale": {"domain": [-3.025, 34.375], "reverse": true, "nice": false, "zero": false}}}},
            {"data": {"values": [{}]}, "mark": {"type": "rule", "color": "#4f9a4f", "strokeWidth": 1.2}, "encoding": {"y": {"datum": 0, "type": "quantitative", "scale": {"domain": [-3.025, 34.375], "reverse": true, "nice": false, "zero": false}}}},
            {"data": {"values": [{}]}, "mark": {"type": "rule", "color": "#1a28a6", "strokeWidth": 3.5}, "encoding": {"x": {"datum": 1, "type": "quantitative", "scale": {"domain": [0, 1], "nice": false, "zero": false}}, "y": {"datum": -2.95, "type": "quantitative", "scale": {"domain": [-3.025, 34.375], "reverse": true, "nice": false, "zero": false}}, "y2": {"datum": 34.2}}},
            {"data": {"values": [{}]}, "mark": {"type": "text", "text": ["备", "注"], "fontSize": 12.5, "lineHeight": 18, "align": "center", "baseline": "middle", "dy": -9, "color": "#222222"},
             "encoding": {"x": {"datum": 0.5, "type": "quantitative", "scale": {"domain": [0, 1], "nice": false, "zero": false}}, "y": {"datum": -1.325, "type": "quantitative", "scale": {"domain": [-3.025, 34.375], "reverse": true, "nice": false, "zero": false}}}}
          ]
        }
      ]
    },
    {
      "spacing": 0,
      "bounds": "flush",
      "hconcat": [
        {"width": 95, "height": 18, "view": {"fill": "#e6e6e6", "stroke": null}, "data": {"values": [{}]}, "mark": {"type": "text", "text": ""}},
        {
          "width": 213, "height": 18, "view": {"fill": "#e6e6e6", "stroke": null},
          "data": {"values": [{"name": "Sheet1"}, {"name": "Sheet2"}, {"name": "Sheet3"}]},
          "layer": [
            {"mark": {"type": "rect", "stroke": "#bdbdbd", "strokeWidth": 1},
             "encoding": {"x": {"field": "name", "type": "nominal", "scale": {"paddingInner": 0, "paddingOuter": 0}},
               "color": {"condition": {"test": "datum.name == 'Sheet1'", "value": "#f7f7f7"}, "value": "#dadada"}}},
            {"transform": [{"filter": "datum.name == 'Sheet1'"}], "mark": {"type": "text", "fontSize": 13, "fontWeight": "bold", "color": "#3e8e3e", "font": "Liberation Sans"},
             "encoding": {"x": {"field": "name", "type": "nominal", "scale": {"paddingInner": 0, "paddingOuter": 0}}, "text": {"field": "name"}}},
            {"transform": [{"filter": "datum.name != 'Sheet1'"}], "mark": {"type": "text", "fontSize": 13, "color": "#555555", "font": "Liberation Sans"},
             "encoding": {"x": {"field": "name", "type": "nominal", "scale": {"paddingInner": 0, "paddingOuter": 0}}, "text": {"field": "name"}}}
          ]
        },
        {"width": 30, "height": 18, "view": {"fill": "#e6e6e6", "stroke": null}, "data": {"values": [{}]}, "mark": {"type": "text", "text": "+", "fontSize": 17, "fontWeight": 300, "color": "#666666"}},
        {
          "width": 954, "height": 18, "view": {"fill": "#e6e6e6", "stroke": null},
          "data": {"values": [{}]},
          "mark": {"type": "rect", "fill": "#fbfbfb", "stroke": "#a8a8a8", "cornerRadius": 8},
          "encoding": {"x": {"datum": 0.824, "type": "quantitative", "scale": {"domain": [0, 1], "nice": false, "zero": false}}, "x2": {"datum": 1},
            "y": {"datum": 0.15, "type": "quantitative", "scale": {"domain": [0, 1], "nice": false, "zero": false}}, "y2": {"datum": 0.9}}
        }
      ]
    }
  ]
}
